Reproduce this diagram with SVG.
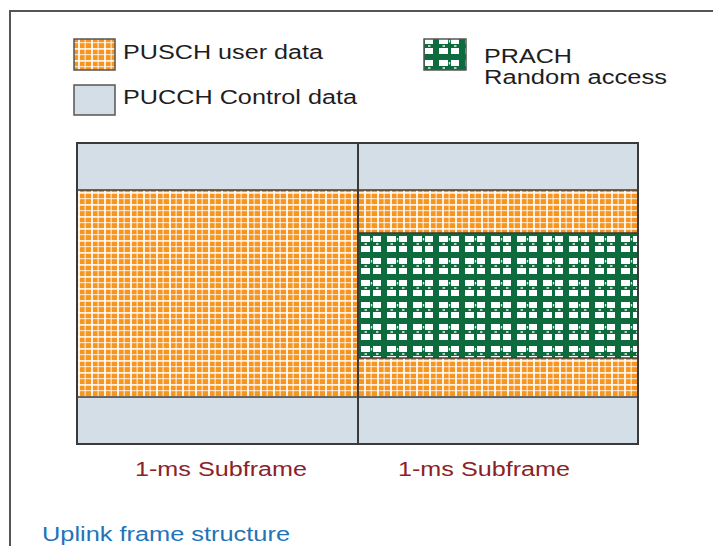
<svg xmlns="http://www.w3.org/2000/svg" width="713" height="546" viewBox="0 0 713 546">
  <style>
    .label { font-family: "Liberation Sans", Arial, sans-serif; font-size: 20px; fill: #1e1e1e; }
    .sub { font-family: "Liberation Sans", Arial, sans-serif; font-size: 20px; fill: #8c2126; }
    .caption { font-family: "Liberation Sans", Arial, sans-serif; font-size: 20px; fill: #2273b9; }
    .ctrl { fill: #d3dee6; }
    .edge { fill: none; stroke: #3a3a3a; stroke-width: 2; }
    .thin { fill: none; stroke: #3a3a3a; stroke-width: 1.5; }
  </style>
  <defs>
    <!-- PUSCH: orange with white plaid lines -->
    <pattern id="pusch" x="0" y="0" width="13" height="12" patternUnits="userSpaceOnUse">
      <rect width="13" height="12" fill="#f7951f"/>
      <rect x="0" y="0" width="2" height="12" fill="#ffffff" opacity="0.85"/>
      <rect x="6.5" y="0" width="1.3" height="12" fill="#ffffff" opacity="0.7"/>
      <rect x="0" y="0" width="13" height="1.8" fill="#ffffff" opacity="0.85"/>
      <rect x="0" y="6" width="13" height="1.2" fill="#ffffff" opacity="0.7"/>
    </pattern>
    <!-- PRACH: dark green lattice with white cells -->
    <pattern id="prach" x="358" y="233" width="26" height="22" patternUnits="userSpaceOnUse">
      <rect width="26" height="22" fill="#0d6b3d"/>
      <rect x="3" y="3" width="9" height="6" fill="#ffffff"/>
      <rect x="15" y="3" width="8" height="6" fill="#ffffff"/>
      <rect x="3" y="13" width="9" height="6" fill="#ffffff"/>
      <rect x="15" y="13" width="8" height="6" fill="#ffffff"/>
      <rect x="12.8" y="5" width="1.4" height="2.5" fill="#ffffff" opacity="0.85"/>
      <rect x="6.5" y="10.2" width="2.5" height="1.6" fill="#ffffff" opacity="0.85"/>
      <rect x="18" y="10.2" width="2.5" height="1.6" fill="#ffffff" opacity="0.85"/>
    </pattern>
  </defs>

  <rect width="713" height="546" fill="#ffffff"/>

  <!-- outer panel border (top and left) -->
  <path d="M10,546 V11 H713" fill="none" stroke="#555555" stroke-width="2"/>

  <!-- legend -->
  <g id="legend-pusch">
    <rect x="74" y="39" width="41" height="31" fill="url(#pusch)" stroke="#555555" stroke-width="1.5"/>
    <text class="label" x="123" y="59" textLength="200" lengthAdjust="spacingAndGlyphs">PUSCH user data</text>
  </g>
  <g id="legend-pucch">
    <rect x="74" y="85" width="41" height="30" class="ctrl" stroke="#555555" stroke-width="1.5"/>
    <text class="label" x="123" y="104" textLength="234" lengthAdjust="spacingAndGlyphs">PUCCH Control data</text>
  </g>
  <g id="legend-prach">
    <rect x="424" y="39" width="42" height="31" fill="url(#prach)" stroke="#555555" stroke-width="1.5"/>
    <text class="label" x="484" y="63" textLength="88" lengthAdjust="spacingAndGlyphs">PRACH</text>
    <text class="label" x="484" y="84" textLength="183" lengthAdjust="spacingAndGlyphs">Random access</text>
  </g>

  <!-- subframe 1 -->
  <g id="subframe-1">
    <rect x="77" y="143" width="281" height="47" class="ctrl"/>
    <rect x="77" y="190" width="281" height="207" fill="url(#pusch)"/>
    <rect x="77" y="397" width="281" height="47" class="ctrl"/>
    <line x1="77" y1="190" x2="358" y2="190" class="thin"/>
    <line x1="77" y1="397" x2="358" y2="397" class="thin"/>
  </g>

  <!-- subframe 2 -->
  <g id="subframe-2">
    <rect x="358" y="143" width="280" height="47" class="ctrl"/>
    <rect x="358" y="190" width="280" height="43" fill="url(#pusch)"/>
    <rect x="358" y="233" width="280" height="125" fill="url(#prach)"/>
    <rect x="358" y="358" width="280" height="39" fill="url(#pusch)"/>
    <rect x="358" y="397" width="280" height="47" class="ctrl"/>
    <line x1="358" y1="190" x2="638" y2="190" class="thin"/>
    <line x1="358" y1="233" x2="638" y2="233" class="thin"/>
    <line x1="358" y1="358" x2="638" y2="358" class="thin"/>
    <line x1="358" y1="397" x2="638" y2="397" class="thin"/>
  </g>

  <!-- frame outline and subframe divider -->
  <g id="frame">
    <rect x="77" y="143" width="561" height="301" class="edge"/>
    <line x1="358" y1="143" x2="358" y2="444" class="edge"/>
  </g>

  <!-- labels -->
  <text class="sub" x="135" y="476" textLength="172" lengthAdjust="spacingAndGlyphs">1-ms Subframe</text>
  <text class="sub" x="398" y="476" textLength="172" lengthAdjust="spacingAndGlyphs">1-ms Subframe</text>
  <text class="caption" x="42" y="541" textLength="248" lengthAdjust="spacingAndGlyphs">Uplink frame structure</text>
</svg>
